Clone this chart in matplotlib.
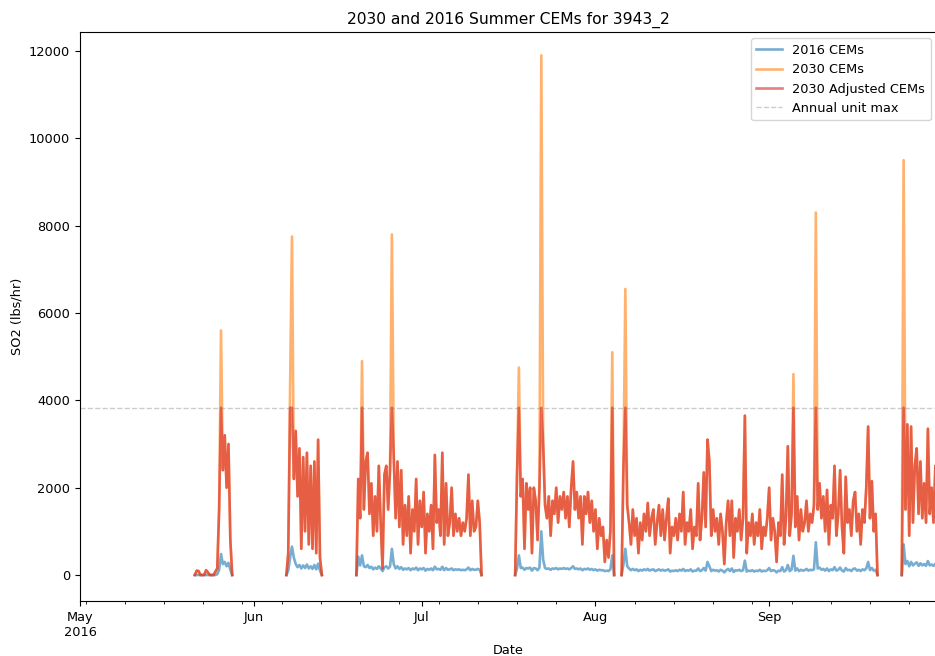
import numpy as np
import pandas as pd
import matplotlib
matplotlib.use('Agg')
import matplotlib.pyplot as plt
import matplotlib.dates as mdates
from matplotlib.ticker import FuncFormatter

annual_unit_max = 3830
step_hours = 8

# start of each operating period (values every 8 hours)
seg_starts = ['2016-05-21 12:00', '2016-06-06 20:00', '2016-06-19 08:00',
              '2016-07-17 16:00', '2016-08-05 16:00', '2016-09-24 16:00']

cems2030_a = [0, 100, 90, 0, 0, 0, 110, 60, 0, 0,
              0, 80, 150, 1500, 5600, 2400, 3200, 2000, 3000, 800,
              0]
cems2016_a = [0, 0, 0, 0, 0, 0, 0, 0, 0, 0,
              0, 0, 20, 120, 480, 250, 300, 200, 280, 120,
              0]

cems2030_b = [0, 500, 4300, 7750, 2200, 3300, 1800, 2900, 600, 2700,
              1000, 2800, 700, 2500, 600, 2600, 500, 3100, 400, 0]
cems2016_b = [0, 100, 400, 650, 400, 250, 180, 230, 150, 220,
              160, 240, 150, 200, 140, 230, 130, 260, 100, 0]

cems2030_c = [0, 2200, 1300, 4900, 1500, 2600, 2800, 1400, 2100, 900,
              1800, 1000, 2500, 1200, 150, 2300, 2500, 1500, 2400, 7800,
              2700, 1300, 2600, 1100, 2400, 700, 1600, 900, 1800, 500,
              1500, 1000, 2200, 700, 1700, 1100, 1900, 500, 1400, 1000,
              1600, 600, 2750, 1200, 1500, 900, 2800, 700, 2100, 900,
              1200, 2000, 900, 1400, 1000, 1300, 900, 1200, 1000, 1300,
              2300, 900, 1700, 1000, 1100, 1700, 1200, 0]
cems2016_c = [0, 420, 220, 450, 200, 180, 230, 160, 190, 130,
              170, 140, 200, 150, 90, 180, 200, 150, 190, 600,
              250, 150, 200, 140, 180, 120, 150, 130, 160, 110,
              150, 130, 170, 110, 150, 130, 160, 100, 140, 120,
              150, 110, 190, 130, 140, 120, 190, 110, 160, 120,
              130, 150, 110, 130, 120, 130, 110, 120, 110, 130,
              170, 110, 140, 120, 120, 140, 120, 0]

cems2030_d = [0, 2300, 4750, 1800, 2200, 600, 2100, 1500, 2000, 500,
              2000, 1700, 800, 2000, 11900, 3000, 1600, 1300, 1800, 900,
              1700, 1400, 2000, 1200, 1800, 1500, 1900, 1300, 1800, 1100,
              2000, 2600, 1500, 1900, 1300, 1800, 700, 1800, 1400, 1900,
              1200, 1700, 1000, 1500, 600, 1300, 900, 1100, 300, 800,
              400, 1000, 5100, 0]
cems2016_d = [0, 150, 450, 160, 170, 120, 160, 150, 170, 100,
              160, 150, 110, 170, 1000, 350, 160, 140, 150, 120,
              150, 140, 160, 130, 150, 140, 160, 140, 150, 130,
              160, 200, 140, 150, 130, 150, 110, 140, 130, 150,
              120, 140, 110, 130, 100, 120, 110, 110, 90, 100,
              90, 130, 450, 0]

cems2030_e = [0, 2500, 6550, 1600, 1200, 700, 1500, 900, 1300, 500,
              1200, 800, 1400, 1000, 1650, 900, 1300, 1500, 700, 1200,
              1600, 900, 1500, 800, 1300, 1750, 500, 1100, 900, 1300,
              800, 1400, 1000, 1900, 700, 1200, 1000, 1500, 600, 1100,
              900, 2100, 800, 1300, 2350, 1100, 3100, 2600, 900, 1500,
              1000, 1300, 700, 1400, 1000, 250, 1200, 1700, 900, 1700,
              400, 1300, 1000, 1500, 800, 1300, 3650, 500, 1200, 900,
              1400, 700, 1200, 900, 1500, 600, 1100, 900, 1300, 2000,
              800, 1300, 1000, 300, 1200, 900, 2300, 700, 1300, 2950,
              900, 1400, 4600, 1100, 1800, 800, 1500, 1000, 1200, 1700,
              1000, 1400, 1200, 1600, 8300, 1500, 2100, 1300, 1800, 1000,
              1950, 700, 1600, 1300, 2500, 900, 1400, 2400, 1100, 500,
              2250, 1200, 1500, 900, 1700, 1900, 1000, 1400, 700, 1500,
              1200, 2000, 3400, 1300, 2150, 1000, 1400, 0]
cems2016_e = [0, 250, 600, 200, 150, 110, 140, 110, 130, 90,
              120, 100, 130, 110, 140, 100, 120, 130, 90, 110,
              130, 100, 120, 100, 110, 130, 80, 100, 90, 110,
              90, 120, 100, 140, 90, 110, 100, 130, 80, 100,
              100, 150, 90, 110, 160, 100, 300, 200, 90, 120,
              100, 110, 80, 120, 100, 60, 110, 140, 90, 150,
              70, 110, 100, 120, 90, 110, 330, 80, 100, 90,
              110, 80, 100, 90, 120, 80, 100, 90, 110, 160,
              90, 110, 100, 60, 100, 90, 180, 80, 110, 230,
              90, 120, 440, 100, 150, 90, 120, 100, 110, 140,
              100, 120, 110, 130, 750, 150, 170, 120, 140, 100,
              150, 90, 130, 110, 180, 100, 120, 170, 100, 80,
              160, 110, 120, 90, 140, 150, 100, 120, 90, 130,
              110, 150, 300, 110, 160, 100, 120, 0]

cems2030_f = [0, 9500, 1500, 3450, 900, 3400, 1200, 2500, 2900, 1400,
              2600, 1300, 2100, 1200, 3350, 1400, 2000, 1200, 2500, 1300]
cems2016_f = [0, 700, 250, 320, 200, 300, 220, 260, 290, 210,
              270, 220, 250, 210, 320, 220, 240, 210, 260, 220]

segs2030 = [cems2030_a, cems2030_b, cems2030_c, cems2030_d, cems2030_e, cems2030_f]
segs2016 = [cems2016_a, cems2016_b, cems2016_c, cems2016_d, cems2016_e, cems2016_f]

times, v2030, v2016 = [], [], []
for start, s30, s16 in zip(seg_starts, segs2030, segs2016):
    idx = pd.date_range(start, periods=len(s30), freq='%dh' % step_hours)
    times.extend(idx)
    v2030.extend(s30)
    v2016.extend(s16)
    # break the line between operating periods
    times.append(idx[-1] + pd.Timedelta(hours=1))
    v2030.append(np.nan)
    v2016.append(np.nan)

times = pd.DatetimeIndex(times)
v2030 = np.array(v2030, dtype=float)
v2016 = np.array(v2016, dtype=float)
adjusted = np.minimum(v2030, annual_unit_max)

fig = plt.figure(figsize=(9.35, 6.56), dpi=100)
ax = fig.add_axes([80 / 935, 1 - 601 / 656, 857 / 935, 569 / 656])

lw = 1.9
ax.plot(times, v2016, color='tab:blue', alpha=0.6, lw=lw, label='2016 CEMs')
ax.plot(times, v2030, color='tab:orange', alpha=0.6, lw=lw, label='2030 CEMs')
ax.plot(times, adjusted, color='tab:red', alpha=0.6, lw=lw, label='2030 Adjusted CEMs')
ax.axhline(annual_unit_max, color='grey', ls='--', lw=1, alpha=0.4, label='Annual unit max')

ax.set_xlim(pd.Timestamp('2016-05-01'), pd.Timestamp('2016-09-30 23:00'))
ax.set_ylim(-595, 12435)

ax.xaxis.set_major_locator(mdates.MonthLocator())
ax.xaxis.set_minor_locator(mdates.WeekdayLocator(byweekday=mdates.MO))


def month_fmt(x, pos):
    d = mdates.num2date(x)
    if d.month == 5:
        return d.strftime('%b\n%Y')
    return d.strftime('%b')


ax.xaxis.set_major_formatter(FuncFormatter(month_fmt))
ax.tick_params(axis='both', labelsize=9.3)

ax.set_title('2030 and 2016 Summer CEMs for 3943_2', fontsize=11.2)
ax.set_xlabel('Date', fontsize=9.3)
ax.set_ylabel('SO2 (lbs/hr)', fontsize=9.3)
ax.legend(loc='upper right', fontsize=9.3)

fig.savefig('out.png', dpi=100)
